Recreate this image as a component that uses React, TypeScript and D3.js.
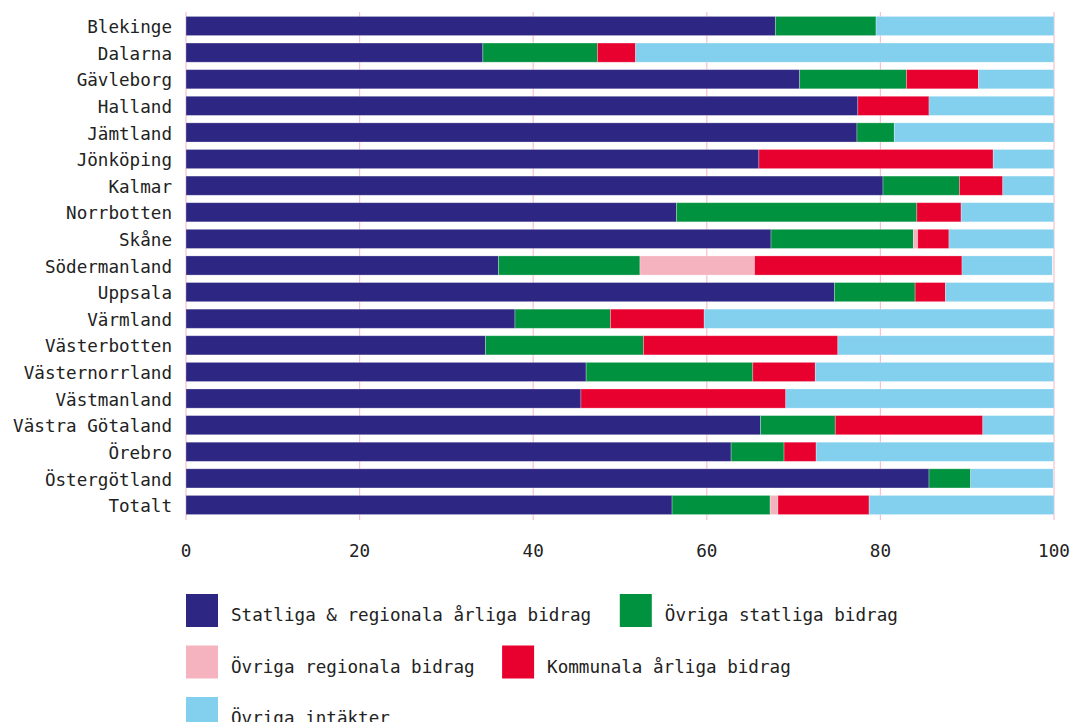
import React from "react";
import * as d3 from "d3";

const regions = [
  "Blekinge", "Dalarna", "Gävleborg", "Halland", "Jämtland", "Jönköping", "Kalmar",
  "Norrbotten", "Skåne", "Södermanland", "Uppsala", "Värmland", "Västerbotten",
  "Västernorrland", "Västmanland", "Västra Götaland", "Örebro", "Östergötland", "Totalt",
];

const seriesNames = [
  "Statliga & regionala årliga bidrag",
  "Övriga statliga bidrag",
  "Övriga regionala bidrag",
  "Kommunala årliga bidrag",
  "Övriga intäkter",
];

const statligaRegionala = [67.9, 34.2, 70.7, 77.4, 77.3, 66.0, 80.3, 56.5, 67.4, 36.0, 74.7, 37.9, 34.5, 46.1, 45.5, 66.2, 62.8, 85.6, 56.0];
const ovrigaStatliga = [11.6, 13.2, 12.3, 0, 4.3, 0, 8.8, 27.7, 16.4, 16.3, 9.3, 11.0, 18.2, 19.2, 0, 8.6, 6.1, 4.8, 11.3];
const ovrigaRegionala = [0, 0, 0, 0, 0, 0, 0, 0, 0.5, 13.2, 0, 0, 0, 0, 0, 0, 0, 0, 0.9];
const kommunala = [0, 4.4, 8.3, 8.2, 0, 27.0, 5.0, 5.1, 3.6, 23.9, 3.5, 10.8, 22.4, 7.2, 23.6, 17.0, 3.7, 0, 10.5];
const ovrigaIntakter = [20.5, 48.2, 8.7, 14.4, 18.4, 7.0, 5.9, 10.7, 12.1, 10.4, 12.5, 40.3, 24.9, 27.5, 30.9, 8.2, 27.4, 9.5, 21.3];

const xTicks = [0, 20, 40, 60, 80, 100];

const colors = ["#2e2683", "#00923f", "#f5b3c0", "#e8002f", "#82cfee"];

const FONT = "'DejaVu Sans Mono', 'Liberation Mono', monospace";

export default function App() {
  const width = 1072;
  const height = 722;
  const x = d3.scaleLinear().domain([0, 100]).range([186, 1054]);
  const y = d3
    .scaleBand<string>()
    .domain(regions)
    .range([12.7, 518.3])
    .paddingInner(0.28)
    .paddingOuter(0.14);

  const keys = ["a", "b", "c", "d", "e"];
  const table = regions.map((r, i) => ({
    region: r,
    a: statligaRegionala[i],
    b: ovrigaStatliga[i],
    c: ovrigaRegionala[i],
    d: kommunala[i],
    e: ovrigaIntakter[i],
  }));
  const stacked = d3.stack<any>().keys(keys)(table);

  const charW = 10.7;
  const legendRows = [[0, 1], [2, 3], [4]];

  return (
    <svg
      width={width}
      height={height}
      style={{ position: "absolute", left: 0, top: 0, background: "#fff" }}
      fontFamily={FONT}
    >
      {xTicks.map((t) => (
        <line key={"g" + t} x1={x(t)} x2={x(t)} y1={12} y2={520} stroke="#f7c0cc" strokeWidth={1.2} />
      ))}
      {stacked.map((s, si) => (
        <g key={si} fill={colors[si]}>
          {s.map((d, i) =>
            d[1] - d[0] > 0 ? (
              <rect
                key={i}
                x={x(d[0])}
                y={y(regions[i])}
                width={x(d[1]) - x(d[0])}
                height={y.bandwidth()}
                stroke="#ffffff"
                strokeOpacity={0.35}
                strokeWidth={0.8}
              />
            ) : null
          )}
        </g>
      ))}
      {regions.map((r) => (
        <text
          key={r}
          x={172}
          y={(y(r) as number) + y.bandwidth() / 2 + 1}
          dy="0.35em"
          textAnchor="end"
          fontSize={17.6}
          fill="#222"
        >
          {r}
        </text>
      ))}
      {xTicks.map((t) => (
        <text key={"t" + t} x={x(t)} y={551} dy="0.35em" textAnchor="middle" fontSize={17.6} fill="#222">
          {t}
        </text>
      ))}
      {legendRows.map((row, ri) => {
        let cx = 186;
        return row.map((si) => {
          const ix = cx;
          const tw = seriesNames[si].length * charW;
          cx += 32 + 13 + tw + 25;
          const top = 594 + ri * 51.5;
          return (
            <g key={si}>
              <rect x={ix} y={top} width={32} height={33} fill={colors[si]} />
              <text x={ix + 45} y={top + 21} dy="0.35em" fontSize={17.6} fill="#222">
                {seriesNames[si]}
              </text>
            </g>
          );
        });
      })}
    </svg>
  );
}
